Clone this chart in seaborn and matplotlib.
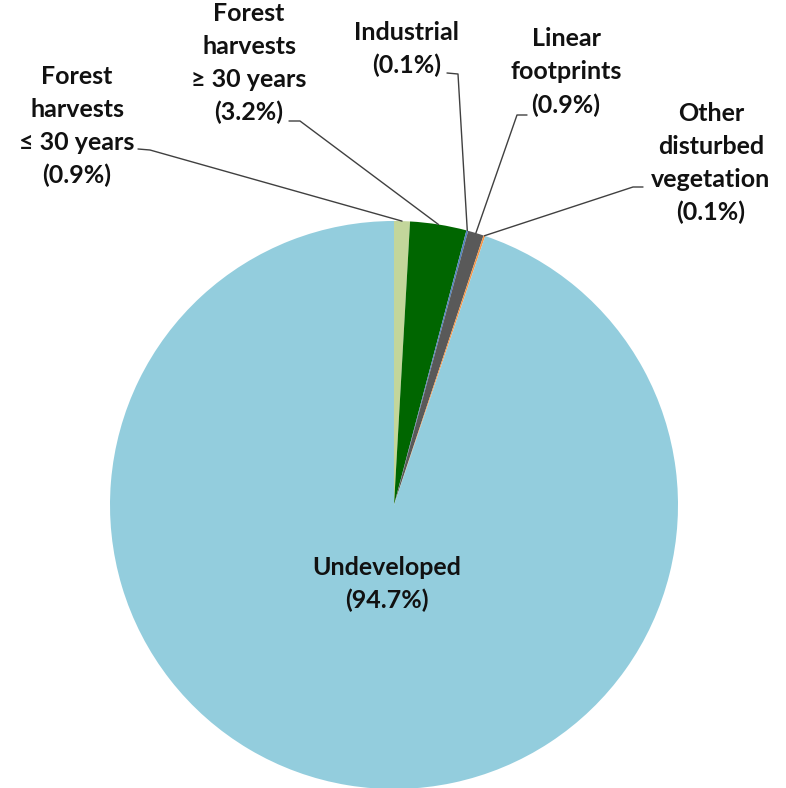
import numpy as np
import matplotlib
matplotlib.use("Agg")
import matplotlib.pyplot as plt
import seaborn as sns

categories = ["Forest harvests ≤ 30 years", "Forest harvests ≥ 30 years", "Industrial",
              "Linear footprints", "Other disturbed vegetation", "Undeveloped"]
label_texts = ["Forest\nharvests\n≤ 30 years", "Forest\nharvests\n≥ 30 years", "Industrial",
               "Linear\nfootprints", "Other\ndisturbed\nvegetation", "Undeveloped"]
values = [0.9, 3.2, 0.1, 0.9, 0.1, 94.7]
colors = ["#C3D69B", "#006600", "#4F81BD", "#595959", "#F79646", "#93CDDD"]

sns.set_theme(style="white")
plt.rcParams['font.family'] = ['Lato', 'DejaVu Sans']

W, H = 786, 788
fig = plt.figure(figsize=(W / 100, H / 100), dpi=100)
ax = fig.add_axes([0, 0, 1, 1])

cx, cy, R = 394, 505, 284
def Y(y):
    return H - y

ax.pie(values, colors=colors, startangle=90, counterclock=False,
       center=(cx, Y(cy)), radius=R, frame=True,
       wedgeprops=dict(linewidth=0))
ax.set_xlim(0, W)
ax.set_ylim(0, H)
ax.set_aspect('equal')
ax.axis('off')

total = sum(values)
cum = np.cumsum([0] + values)
mid_frac = [(cum[i] + values[i] / 2) / total for i in range(len(values))]

fs = 18
ls = 1.52
label_pos = [(77, 126), (249, 63), (407, 49), (566, 72), (711, 163)]
leader_start = [[(138, 149), (150, 150)], [(289, 121), (300, 121)], [(447, 73), (458, 74)],
                [(527, 115), (517, 115)], [(643, 187), (633, 187)]]

for i in range(5):
    txt = f"{label_texts[i]}\n({values[i]:.1f}%)"
    x, y = label_pos[i]
    ax.text(x, Y(y), txt, ha='center', va='center', fontsize=fs, fontweight='bold',
            linespacing=ls, color='#111111')
    ang = 2 * np.pi * mid_frac[i]
    px = cx + R * np.sin(ang)
    py = cy - R * np.cos(ang)
    pts = leader_start[i] + [(px, py)]
    ax.plot([p[0] for p in pts], [Y(p[1]) for p in pts], color='#404040', lw=1.0)

ax.text(387, Y(584), f"{label_texts[5]}\n({values[5]:.1f}%)", ha='center', va='center',
        fontsize=fs, fontweight='bold', linespacing=ls, color='#111111')

fig.savefig("out.png", dpi=100)
